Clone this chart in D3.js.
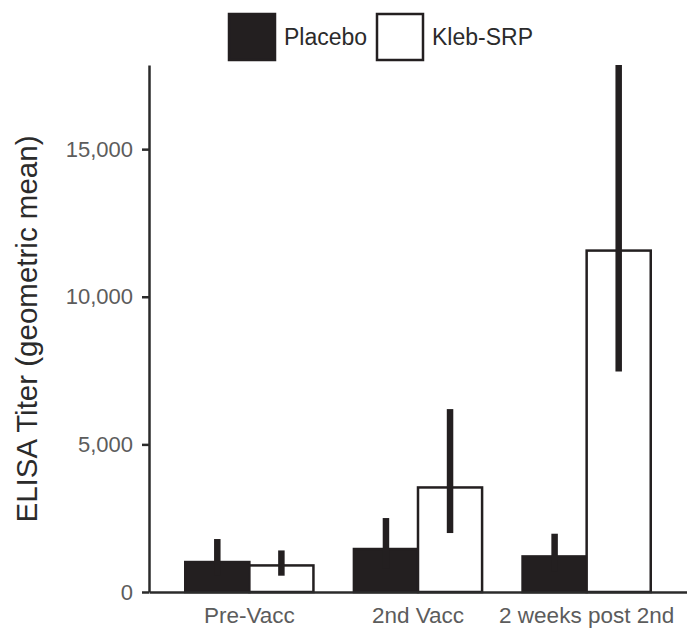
<!DOCTYPE html>
<html>
<head>
<meta charset="utf-8">
<script src="https://cdn.jsdelivr.net/npm/d3@7"></script>
<style>
  body { margin: 0; background: #fff; }
  svg { display: block; font-family: "Liberation Sans", Arial, sans-serif; }
</style>
</head>
<body>
<svg id="chart_svg"></svg>
<script>
// Data
const categories = ["Pre-Vacc", "2nd Vacc", "2 weeks post 2nd"];
const series = ["Placebo", "Kleb-SRP"];
const placeboMean = [1015, 1456, 1205];
const placeboLow = [550, 800, 700];
const placeboHigh = [1794, 2505, 1974];
const klebMean = [900, 3541, 11564];
const klebLow = [552, 1997, 7468];
const klebHigh = [1408, 6195, 17850];
const yTicks = [0, 5000, 10000, 15000];
const yMax = 17850;

const width = 687, height = 629;
const margin = { top: 65, right: 0, bottom: 37, left: 149 };

const svg = d3.select("#chart_svg")
  .attr("width", width)
  .attr("height", height);

const ink = "#231f20";

const rows = categories.map((c, i) => ({
  category: c,
  values: [
    { key: "Placebo", mean: placeboMean[i], low: placeboLow[i], high: placeboHigh[i] },
    { key: "Kleb-SRP", mean: klebMean[i], low: klebLow[i], high: klebHigh[i] }
  ]
}));

const x0 = d3.scaleBand()
  .domain(categories)
  .range([margin.left, width - margin.right])
  .paddingInner(0.24)
  .paddingOuter(0.215);

const x1 = d3.scaleBand()
  .domain(series)
  .range([0, x0.bandwidth()]);

const y = d3.scaleLinear()
  .domain([0, yMax])
  .range([height - margin.bottom, margin.top]);

const fill = d3.scaleOrdinal().domain(series).range([ink, "#fff"]);

// bars
const groups = svg.append("g")
  .selectAll("g")
  .data(rows)
  .enter().append("g")
  .attr("transform", d => `translate(${x0(d.category)},0)`);

groups.selectAll("rect")
  .data(d => d.values)
  .enter().append("rect")
  .attr("x", d => x1(d.key))
  .attr("y", d => y(d.mean))
  .attr("width", x1.bandwidth())
  .attr("height", d => y(0) - y(d.mean))
  .attr("fill", d => fill(d.key))
  .attr("stroke", ink)
  .attr("stroke-width", 2.5);

// error bars
groups.selectAll("line.err")
  .data(d => d.values)
  .enter().append("line")
  .attr("class", "err")
  .attr("x1", d => x1(d.key) + x1.bandwidth() / 2)
  .attr("x2", d => x1(d.key) + x1.bandwidth() / 2)
  .attr("y1", d => y(d.low))
  .attr("y2", d => y(d.high))
  .attr("stroke", ink)
  .attr("stroke-width", 6.5);

// y axis
const yAxis = svg.append("g")
  .attr("transform", `translate(${margin.left},0)`)
  .call(d3.axisLeft(y).tickValues(yTicks).tickSize(7).tickPadding(9).tickFormat(d3.format(",")).tickSizeOuter(0));
yAxis.select(".domain").attr("stroke", "#2b2b2b").attr("stroke-width", 2.5);
yAxis.selectAll(".tick line").attr("stroke", "#2b2b2b").attr("stroke-width", 2.5);
yAxis.selectAll(".tick text")
  .attr("font-size", 22)
  .attr("fill", "#5c5c5c")
  .attr("font-family", "Liberation Sans, Arial, sans-serif");

// x axis
const xAxis = svg.append("g")
  .attr("transform", `translate(0,${y(0)})`)
  .call(d3.axisBottom(x0).tickSize(0).tickPadding(15).tickSizeOuter(0));
xAxis.select(".domain").attr("stroke", "#2b2b2b").attr("stroke-width", 2.5);
xAxis.selectAll(".tick text")
  .attr("font-size", 22.5)
  .attr("fill", "#5c5c5c")
  .attr("font-family", "Liberation Sans, Arial, sans-serif");

// y axis title
svg.append("text")
  .attr("transform", `translate(37,329) rotate(-90)`)
  .attr("text-anchor", "middle")
  .attr("font-size", 29.5)
  .attr("fill", "#2b2b2b")
  .text("ELISA Titer (geometric mean)");

// legend
const legendX = [228, 376];
const legend = svg.append("g")
  .selectAll("g")
  .data(series)
  .enter().append("g")
  .attr("transform", (d, i) => `translate(${legendX[i]},13)`);

legend.append("rect")
  .attr("x", 1)
  .attr("y", 1)
  .attr("width", 46)
  .attr("height", 46)
  .attr("fill", d => fill(d))
  .attr("stroke", ink)
  .attr("stroke-width", 2.5);

legend.append("text")
  .attr("x", 56)
  .attr("y", 32)
  .attr("font-size", 23)
  .attr("fill", "#2b2b2b")
  .text(d => d);
</script>
</body>
</html>
